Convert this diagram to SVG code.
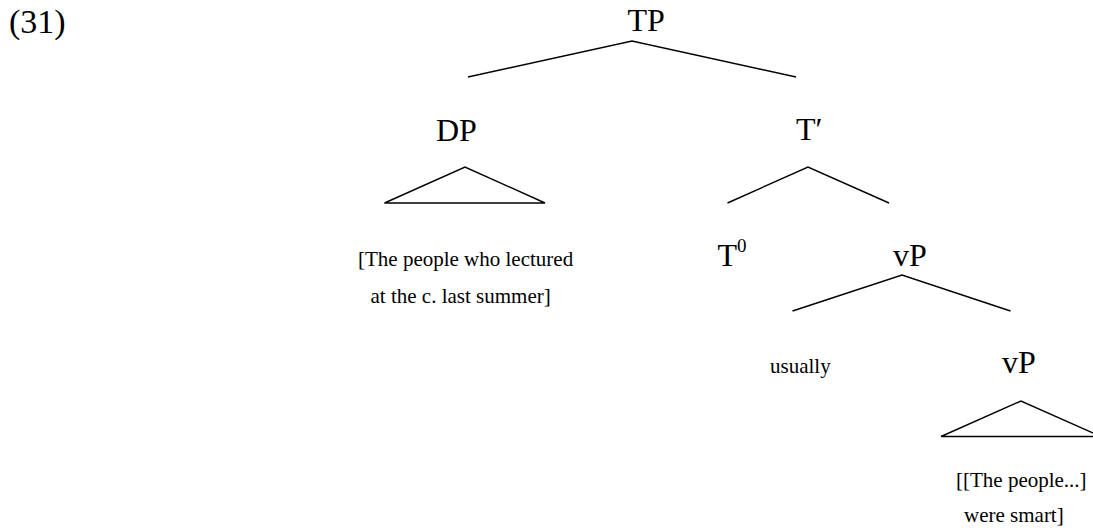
<svg xmlns="http://www.w3.org/2000/svg" width="1093" height="531" viewBox="0 0 1093 531">
  <style>
    text { font-family: "Liberation Serif", "Times New Roman", serif; fill: #000; }
    .lab { font-size: 32px; }
    .num { font-size: 34px; }
    .sup { font-size: 19px; }
    .leaf { font-size: 21px; }
    .edge { fill: none; stroke: #000; stroke-width: 1.4; stroke-linejoin: miter; }
  </style>
  <rect width="1093" height="531" fill="#fff"/>
  <text id="example-number" class="num" x="9" y="33">(31)</text>
  <g id="connectors">
    <polyline class="edge" points="468,77 632,41 796,77"/>
    <polygon class="edge" points="384.5,203 465,167 545,203"/>
    <polyline class="edge" points="727.5,203 808,167 889,203"/>
    <polyline class="edge" points="792.5,311 902,275 1010.5,311"/>
    <polygon class="edge" points="941,436.5 1021,401 1101,436.5"/>
  </g>
  <g id="node-TP"><text class="lab" x="627.5" y="31">TP</text></g>
  <g id="node-DP"><text class="lab" x="436" y="140.7">DP</text></g>
  <g id="node-Tbar"><text class="lab" x="796" y="140">T&#x2032;</text></g>
  <g id="node-DP-leaf">
    <text class="leaf" x="358" y="265.7">[The people who lectured</text>
    <text class="leaf" x="370.5" y="303.3">at the c. last summer]</text>
  </g>
  <g id="node-T0"><text class="lab" x="717.5" y="265.7">T</text><text class="sup" x="737" y="251.7">0</text></g>
  <g id="node-vP"><text class="lab" x="893" y="265.7">vP</text></g>
  <g id="node-usually"><text class="leaf" x="770" y="373.3">usually</text></g>
  <g id="node-vP2"><text class="lab" x="1002" y="373.3">vP</text></g>
  <g id="node-vP2-leaf">
    <text class="leaf" x="956" y="487">[[The people...]</text>
    <text class="leaf" x="964" y="522">were smart]</text>
  </g>
</svg>
